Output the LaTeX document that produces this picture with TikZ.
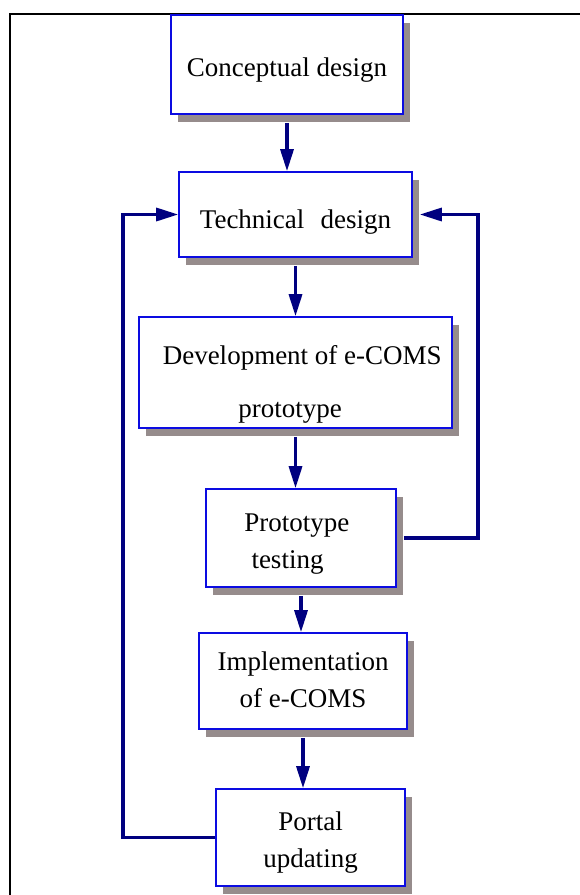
\documentclass[tikz,border=0pt]{standalone}
\usepackage{fontspec}
\setmainfont{Liberation Serif}
\usetikzlibrary{arrows.meta,shadows}
\definecolor{boxblue}{RGB}{12,12,225}
\definecolor{flownavy}{RGB}{0,0,128}
\definecolor{shadegray}{RGB}{150,140,140}
% text lowered inside its box, lines 37pt apart
\newcommand{\boxtext}[2]{\raisebox{-#1}[\height][\depth]{\begin{tabular}{@{}c@{}}#2\end{tabular}}}

\begin{document}
\begin{tikzpicture}[x=1pt, y=-1pt,
  main box/.style={draw=boxblue, line width=1.6pt, fill=white, inner sep=0pt,
    font=\fontsize{27}{37}\selectfont,
    drop shadow={shadow xshift=7pt, shadow yshift=-8pt, fill=shadegray, opacity=1}},
  flow/.style={draw=flownavy, line width=3.2pt, -{Triangle[length=22pt,width=13pt]}}]
\useasboundingbox (0,0) rectangle (580,895);
% frame
\draw[line width=2pt] (10,895) -- (10,14) -- (580,14);

\node[main box, minimum width=232pt, minimum height=99pt] (cd) at (287,64.5)
  {\boxtext{5pt}{Conceptual design}};
\node[main box, minimum width=233pt, minimum height=85pt] (td) at (295.5,214.5)
  {\boxtext{7pt}{Technical\hspace{0.6em}design}};
\node[main box, minimum width=313pt, minimum height=111pt] (dev) at (295.5,372.5)
  {\boxtext{11pt}{\hspace*{0.5em}Development of e-COMS\\[16pt]prototype\hspace*{0.4em}}};
\node[main box, minimum width=190pt, minimum height=98pt] (pt) at (301,538)
  {\boxtext{5pt}{Prototype\hspace*{0.3em}\\testing\hspace*{1em}}};
\node[main box, minimum width=208pt, minimum height=96pt] (impl) at (303,681)
  {\boxtext{1pt}{Implementation\\of e-COMS}};
\node[main box, minimum width=189pt, minimum height=97pt] (pu) at (310.5,837.5)
  {\boxtext{4pt}{Portal\\updating}};

\coordinate (lft) at (123,0);
\coordinate (rgt) at (478,0);

\draw[flow] ([yshift=-8pt]cd.south) -- (cd.south |- td.north);
\draw[flow] ([yshift=-8pt]td.south) -- (td.south |- dev.north);
\draw[flow] ([yshift=-8pt]dev.south) -- (dev.south |- pt.north);
\draw[flow] ([yshift=-8pt]pt.south) -- (pt.south |- impl.north);
\draw[flow] ([yshift=-8pt]impl.south) -- (impl.south |- pu.north);
% feedback loops
\draw[flow] (pu.west) -| (lft |- td.west) -- (td.west);
\draw[flow] ([xshift=7pt]pt.east) -| (rgt |- td.east) -- ([xshift=7pt]td.east);
\end{tikzpicture}
\end{document}
